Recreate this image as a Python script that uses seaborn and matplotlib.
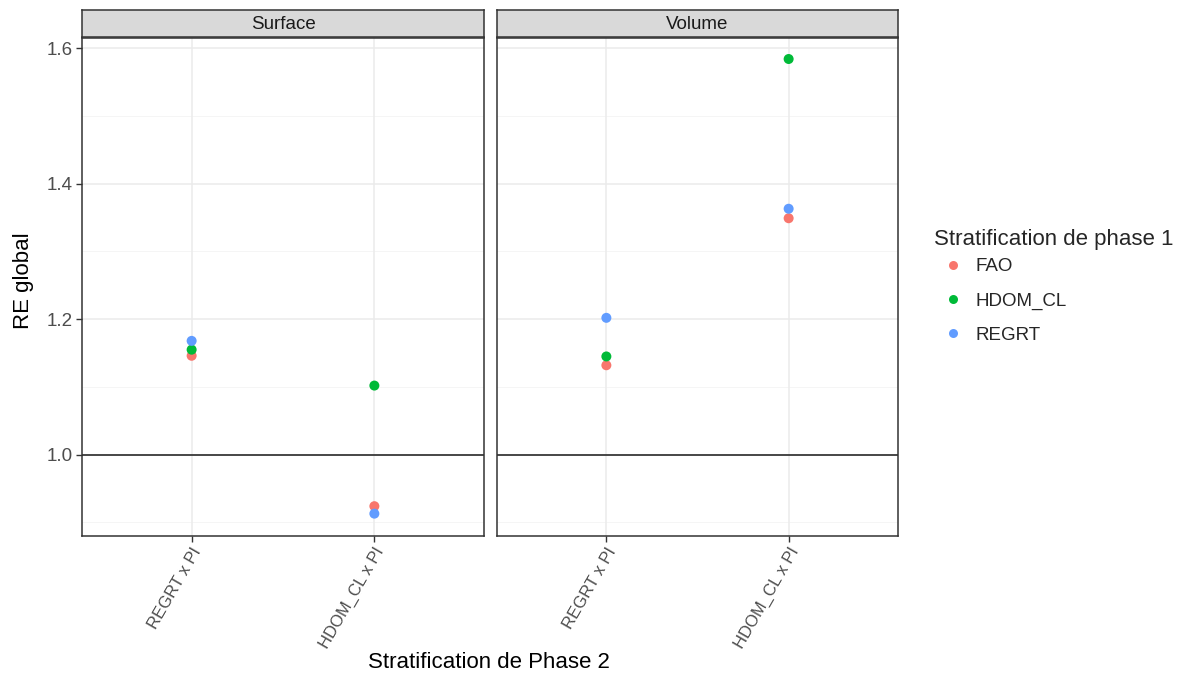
import matplotlib
matplotlib.use("Agg")
import matplotlib.pyplot as plt
import seaborn as sns
import pandas as pd

# --- data -------------------------------------------------------------
facets = ["Surface", "Volume"]
phase2 = ["REGRT x PI", "HDOM_CL x PI"]
phase1 = ["FAO", "HDOM_CL", "REGRT"]

# RE global per facet, ordered as phase2 for each phase1 stratification
surface_fao = [1.146, 0.924]
surface_hdom = [1.155, 1.102]
surface_regrt = [1.168, 0.913]
volume_fao = [1.132, 1.349]
volume_hdom = [1.145, 1.584]
volume_regrt = [1.202, 1.363]

palette = {"FAO": "#F8766D", "HDOM_CL": "#00BA38", "REGRT": "#619CFF"}

rows = []
for facet, series in [
    ("Surface", [surface_fao, surface_hdom, surface_regrt]),
    ("Volume", [volume_fao, volume_hdom, volume_regrt]),
]:
    for p1, vals in zip(phase1, series):
        for p2, v in zip(phase2, vals):
            rows.append({"facet": facet, "phase2": p2, "phase1": p1, "re": v})
df = pd.DataFrame(rows)

# --- figure -------------------------------------------------------------
sns.set_theme(style="white")
plt.rcParams["font.family"] = ["Liberation Sans", "DejaVu Sans"]

W, H = 1186, 677
fig = plt.figure(figsize=(W / 100, H / 100), dpi=100)


def frac(x0, y0, x1, y1):
    return [x0 / W, 1 - y1 / H, (x1 - x0) / W, (y1 - y0) / H]


BASE = 13.5
XTICK = 12
TITLE = 16

panels = [(82, 484), (497, 898)]
top, bottom = 38, 536
strip_top = 10

ymin, ymax = 0.880, 1.615
axes = []
for i, (facet, (x0, x1)) in enumerate(zip(facets, panels)):
    ax = fig.add_axes(frac(x0, top, x1, bottom))
    sub = df[df["facet"] == facet]
    # grid first so it sits beneath the points
    for y in [0.9, 1.1, 1.3, 1.5]:
        ax.axhline(y, color="#F4F4F4", lw=0.6, zorder=0)
    for y in [1.0, 1.2, 1.4, 1.6]:
        ax.axhline(y, color="#EBEBEB", lw=1.1, zorder=0)
    for xx in [0, 1]:
        ax.axvline(xx, color="#EBEBEB", lw=1.1, zorder=0)
    ax.axhline(1.0, color="#1A1A1A", lw=1.1, zorder=1)

    sns.stripplot(
        data=sub, x="phase2", y="re", hue="phase1",
        order=phase2, hue_order=phase1, palette=palette,
        jitter=False, dodge=False, size=7.2, linewidth=0,
        ax=ax, zorder=3, legend=(i == 1),
    )
    ax.set_xlim(-0.6, 1.6)
    ax.set_ylim(ymin, ymax)
    ax.set_yticks([1.0, 1.2, 1.4, 1.6])
    ax.set_xlabel("")
    ax.set_ylabel("")
    ax.grid(False)
    for s in ax.spines.values():
        s.set_color("#333333")
        s.set_linewidth(1.1)
    ax.tick_params(axis="both", which="major", length=4.5, width=1.0,
                   color="#333333", labelcolor="#4D4D4D", labelsize=BASE,
                   bottom=True, left=(i == 0), pad=2)
    if i == 1:
        ax.set_yticklabels([])
    ax.set_xticks([0, 1])
    ax.set_xticklabels(phase2, rotation=60, ha="right", va="top",
                       rotation_mode="anchor", fontsize=XTICK, color="#4D4D4D")

    # facet strip
    sax = fig.add_axes(frac(x0, strip_top, x1, top - 1))
    sax.set_xticks([])
    sax.set_yticks([])
    sax.set_facecolor("#D9D9D9")
    for s in sax.spines.values():
        s.set_color("#333333")
        s.set_linewidth(1.1)
    sax.text(0.5, 0.45, facet, ha="center", va="center", fontsize=BASE,
             color="#1A1A1A", transform=sax.transAxes)
    axes.append(ax)

handles, labels = axes[1].get_legend_handles_labels()
axes[1].get_legend().remove()
leg = fig.legend(
    handles, labels, title="Stratification de phase 1",
    loc="upper left", bbox_to_anchor=(917 / W, 1 - 212 / H),
    frameon=False, fontsize=BASE, title_fontsize=TITLE,
    labelspacing=0.9, handletextpad=0.2, markerscale=0.9,
    alignment="left",
)
# tighter gap between the legend title and its first entry
leg._legend_box.sep = 6

fig.text(489 / W, 1 - 663 / H, "Stratification de Phase 2",
         ha="center", va="center", fontsize=TITLE, color="black")
fig.text(23 / W, 1 - 281 / H, "RE global", ha="center", va="center",
         rotation=90, fontsize=TITLE, color="black")

fig.savefig("out.png", dpi=100)
